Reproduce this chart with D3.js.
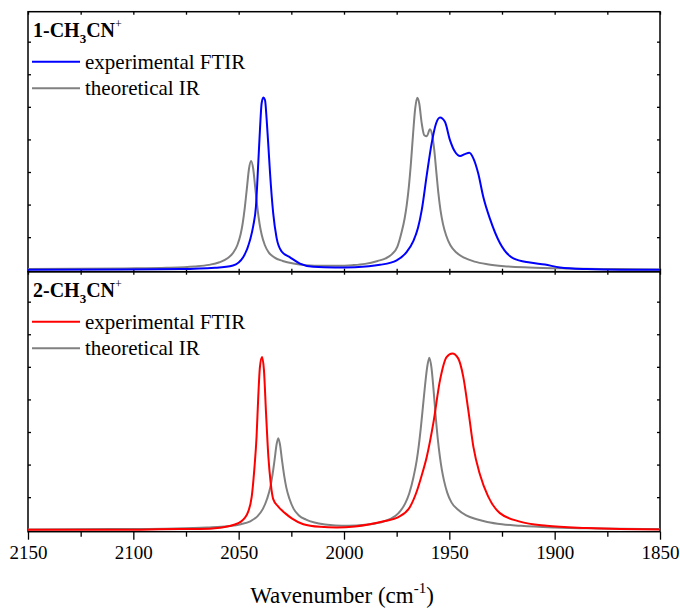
<!DOCTYPE html>
<html>
<head>
<meta charset="utf-8">
<script src="https://cdn.jsdelivr.net/npm/d3@7"></script>
<style>
  body { margin: 0; background: #fff; }
  svg { display: block; }
  text { font-family: "Liberation Serif", "Times New Roman", serif; fill: #000; }
</style>
</head>
<body>
<div id="chart"></div>
<script>
// axis ticks
const xMajorTicks = [2150, 2100, 2050, 2000, 1950, 1900, 1850];
const xMinorTicks = [2125, 2075, 2025, 1975, 1925, 1875];
const yTicks = [1, 2, 3, 4, 5, 6, 7];

// panel 1: 1-CH3CN+ ([wavenumber, intensity a.u.])
const exp1 = [
  [2150, 0.00], [2106.3, 0.01], [2077.8, 0.02], [2061.2, 0.06], [2052.7, 0.13],
  [2047.8, 0.39], [2044.6, 0.91], [2043.1, 1.34], [2041.8, 1.94], [2040.7, 3.27],
  [2039.9, 4.29], [2039.1, 5.11], [2038.3, 5.29], [2037.5, 5.21], [2036.7, 4.60],
  [2035.9, 3.80], [2035.1, 2.96], [2033.6, 1.73], [2032.0, 0.98], [2029.6, 0.56],
  [2025.6, 0.38], [2020.9, 0.19], [2014.6, 0.09], [2004.3, 0.07], [1994.8, 0.08],
  [1982.9, 0.15], [1975.0, 0.29], [1970.2, 0.55], [1967.1, 0.88], [1964.9, 1.28],
  [1963.1, 1.83], [1960.7, 2.91], [1958.4, 3.88], [1956.3, 4.49], [1954.4, 4.67],
  [1952.1, 4.54], [1949.7, 3.98], [1947.3, 3.62], [1944.9, 3.49], [1942.6, 3.55],
  [1940.5, 3.59], [1938.6, 3.42], [1936.3, 2.96], [1933.9, 2.24], [1930.7, 1.56],
  [1926.0, 0.82], [1919.6, 0.35], [1911.7, 0.22], [1904.6, 0.16], [1897.5, 0.07],
  [1884.7, 0.02], [1869.0, 0.00], [1850, 0.00]
];
const theo1 = [
  [2150, 0.02], [2104, 0.04], [2084, 0.06], [2071, 0.10], [2064.1, 0.15],
  [2059.1, 0.23], [2055.1, 0.36], [2052.6, 0.52], [2050.6, 0.76], [2049.1, 1.08],
  [2048.1, 1.42], [2047.1, 1.90], [2046.1, 2.50], [2045.1, 3.10], [2044.1, 3.34],
  [2043.1, 3.10], [2042.1, 2.50], [2041.1, 1.90], [2040.1, 1.42], [2039.1, 1.08],
  [2037.6, 0.76], [2035.6, 0.52], [2033.1, 0.38], [2029.1, 0.27], [2024, 0.19],
  [2018, 0.14], [2010, 0.12], [2003, 0.12], [1996, 0.14], [1990, 0.18],
  [1984, 0.27], [1980.2, 0.35], [1977.2, 0.48], [1974.7, 0.70], [1972.7, 1.14],
  [1971.2, 1.58], [1970.2, 2.00], [1969.2, 2.56], [1968.2, 3.30], [1967.2, 4.18],
  [1966.2, 4.95], [1965.2, 5.28], [1964.3, 5.11], [1963.1, 4.49], [1961.9, 4.13],
  [1960.7, 4.10], [1959.2, 4.31], [1958.2, 4.15], [1957.2, 3.70], [1956.2, 3.02],
  [1955.2, 2.35], [1954.2, 1.83], [1953, 1.40], [1951.5, 1.05], [1949.5, 0.75],
  [1946.5, 0.52], [1943, 0.37], [1938, 0.25], [1932, 0.17], [1924, 0.11],
  [1912, 0.07], [1895, 0.04], [1870, 0.02], [1850, 0.01]
];

// panel 2: 2-CH3CN+
const exp2 = [
  [2150, 0.00], [2106.3, 0.00], [2077.8, 0.02], [2068.4, 0.02], [2058.9, 0.06],
  [2050.2, 0.20], [2046.2, 0.45], [2043.8, 1.02], [2042.6, 1.83], [2041.5, 2.86],
  [2040.7, 4.08], [2039.9, 5.00], [2038.9, 5.30], [2038.0, 4.90], [2037.0, 3.57],
  [2035.9, 2.24], [2034.8, 1.44], [2033.6, 0.94], [2031.2, 0.71], [2028.0, 0.51],
  [2024.8, 0.35], [2019.3, 0.17], [2011.4, 0.09], [2003.5, 0.07], [1994.8, 0.10],
  [1987.7, 0.17], [1980.6, 0.27], [1974.4, 0.38], [1968.7, 0.70], [1965.4, 1.19],
  [1963.2, 1.65], [1960.7, 2.24], [1957.6, 3.27], [1954.4, 4.60], [1951.3, 5.30],
  [1948.6, 5.41], [1945.8, 5.26], [1943.4, 4.70], [1941.0, 3.67], [1938.6, 2.55],
  [1935.4, 1.68], [1931.7, 1.04], [1926.0, 0.51], [1916.5, 0.25], [1903.8, 0.12],
  [1885.0, 0.05], [1869.0, 0.02], [1850, 0.01]
];
const theo2 = [
  [2150, 0.01], [2110, 0.02], [2080, 0.04], [2065, 0.07], [2055, 0.11],
  [2049, 0.17], [2044.5, 0.26], [2041, 0.42], [2038.5, 0.64], [2036.5, 0.95],
  [2035, 1.30], [2034, 1.66], [2033, 2.12], [2032, 2.62], [2031.2, 2.81],
  [2030.4, 2.62], [2029.4, 2.12], [2028.4, 1.66], [2027.4, 1.30], [2025.9, 0.95],
  [2023.9, 0.64], [2021.4, 0.44], [2018, 0.31], [2014, 0.22], [2009, 0.16],
  [2004, 0.13], [1998, 0.12], [1990, 0.15], [1983, 0.22], [1978, 0.33],
  [1974, 0.52], [1971, 0.80], [1969, 1.12], [1967, 1.62], [1965.5, 2.12],
  [1964.5, 2.58], [1963.5, 3.15], [1962.5, 3.80], [1961.5, 4.45], [1960.5, 5.00],
  [1959.5, 5.28], [1958.5, 4.98], [1957.5, 4.30], [1956.5, 3.50], [1955.5, 2.80],
  [1954.5, 2.25], [1953.5, 1.82], [1952.5, 1.50], [1951, 1.14], [1949, 0.84],
  [1946, 0.62], [1942, 0.44], [1937, 0.32], [1932, 0.24], [1925, 0.17],
  [1916, 0.12], [1900, 0.07], [1880, 0.04], [1850, 0.02]
];

const panels = [
  { num: "1", exp: exp1, theo: theo1, color: "#0000ff" },
  { num: "2", exp: exp2, theo: theo2, color: "#ff0000" }
];
const legendNames = ["experimental FTIR", "theoretical IR"];

const W = 680, H = 608;
const plotLeft = 28, plotRight = 660, plotTop = 11.7, panelH = 260;
const plotBottom = plotTop + 2 * panelH;

const svg = d3.select("#chart").append("svg")
  .attr("width", W)
  .attr("height", H);

const x = d3.scaleLinear().domain([2150, 1850]).range([plotLeft, plotRight]);

panels.forEach((p, i) => {
  const y0 = plotTop + i * panelH;
  const y = d3.scaleLinear().domain([-0.06, 7.92]).range([y0 + panelH, y0]);
  const g = svg.append("g");

  // frame of the panel
  g.append("rect")
    .attr("x", plotLeft).attr("y", y0)
    .attr("width", plotRight - plotLeft).attr("height", panelH)
    .attr("fill", "none").attr("stroke", "#000").attr("stroke-width", 1.5);

  // small inner ticks on left and right
  g.append("g").attr("transform", `translate(${plotLeft},0)`)
    .call(d3.axisRight(y).tickValues(yTicks).tickSize(3).tickFormat(""))
    .call(a => a.select(".domain").remove());
  g.append("g").attr("transform", `translate(${plotRight},0)`)
    .call(d3.axisLeft(y).tickValues(yTicks).tickSize(3).tickFormat(""))
    .call(a => a.select(".domain").remove());

  // small inner ticks on top and bottom edges
  const allX = xMajorTicks.concat(xMinorTicks);
  g.append("g").attr("transform", `translate(0,${y0})`)
    .call(d3.axisBottom(x).tickValues(allX).tickSize(3).tickFormat(""))
    .call(a => a.select(".domain").remove());
  if (i === 0) {
    g.append("g").attr("transform", `translate(0,${y0 + panelH})`)
      .call(d3.axisTop(x).tickValues(allX).tickSize(3).tickFormat(""))
      .call(a => a.select(".domain").remove());
  }
  g.selectAll(".tick line").attr("stroke", "#000").attr("stroke-width", 1.3);

  const line = d3.line()
    .x(d => x(d[0]))
    .y(d => y(d[1]))
    .curve(d3.curveMonotoneX);

  g.append("path").datum(p.theo)
    .attr("d", line)
    .attr("fill", "none").attr("stroke", "#808080").attr("stroke-width", 2);
  g.append("path").datum(p.exp)
    .attr("d", line)
    .attr("fill", "none").attr("stroke", p.color).attr("stroke-width", 2);

  // panel label 1-CH3CN+
  const lab = g.append("text")
    .attr("x", 33).attr("y", y0 + 25)
    .attr("font-size", 20).attr("font-weight", "bold");
  lab.append("tspan").text(p.num + "-CH");
  lab.append("tspan").attr("dy", 6).attr("font-size", 13).text("3");
  lab.append("tspan").attr("dy", -6).text("CN");
  lab.append("tspan").attr("dy", -9).attr("font-size", 12).attr("font-weight", "normal").text("+");

  // legend
  const colors = [p.color, "#808080"];
  legendNames.forEach((name, k) => {
    const ly = y0 + 50 + k * 26.6;
    g.append("line")
      .attr("x1", 32).attr("x2", 80).attr("y1", ly).attr("y2", ly)
      .attr("stroke", colors[k]).attr("stroke-width", 2);
    g.append("text")
      .attr("x", 85).attr("y", ly + 7)
      .attr("font-size", 21)
      .text(name);
  });
});

// bottom axis: outward ticks and labels
const xAxis = svg.append("g").attr("transform", `translate(0,${plotBottom})`);
xAxis.call(d3.axisBottom(x).tickValues(xMajorTicks).tickSize(8).tickPadding(6).tickFormat(d3.format("d")))
  .call(a => a.select(".domain").remove());
xAxis.selectAll("text")
  .attr("font-size", 19)
  .attr("fill", "#000");
svg.append("g").attr("transform", `translate(0,${plotBottom})`)
  .call(d3.axisBottom(x).tickValues(xMinorTicks).tickSize(5).tickFormat(""))
  .call(a => a.select(".domain").remove());
svg.selectAll(".tick line").attr("stroke", "#000").attr("stroke-width", 1.3);

// axis title
const title = svg.append("text")
  .attr("x", (plotLeft + plotRight) / 2 - 2).attr("y", 603)
  .attr("text-anchor", "middle")
  .attr("font-size", 23);
title.append("tspan").text("Wavenumber (cm");
title.append("tspan").attr("dy", -10).attr("font-size", 15).text("-1");
title.append("tspan").attr("dy", 10).text(")");
</script>
</body>
</html>
